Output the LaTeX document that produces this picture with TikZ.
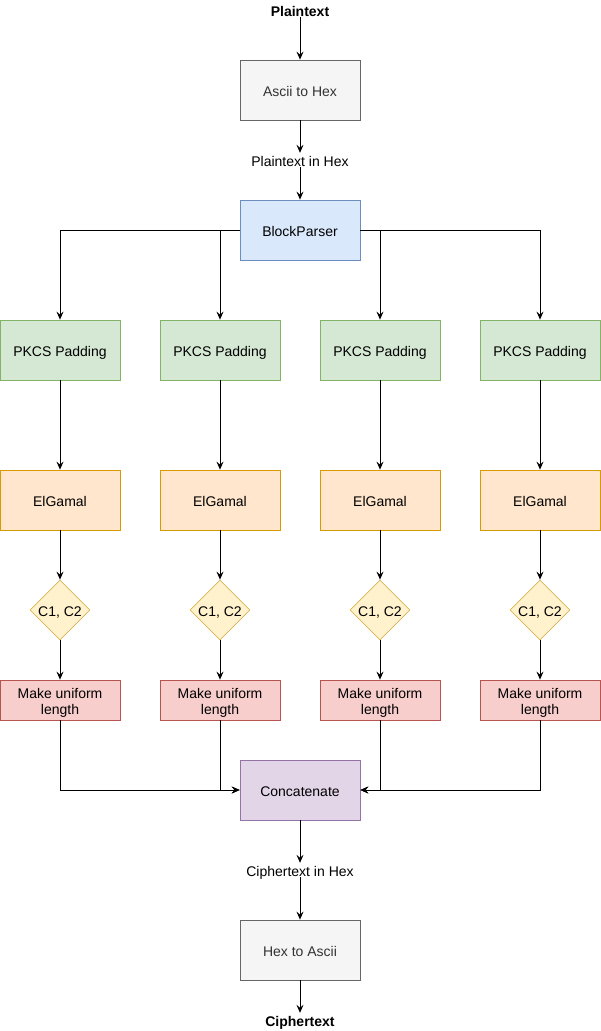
\documentclass[tikz,border=0pt]{standalone}
\usepackage{fontspec}
\setmainfont{Liberation Sans}
\usetikzlibrary{shapes.geometric,arrows.meta}
\definecolor{grayF}{HTML}{F5F5F5}\definecolor{grayS}{HTML}{666666}\definecolor{grayT}{HTML}{333333}
\definecolor{blueF}{HTML}{DAE8FC}\definecolor{blueS}{HTML}{6C8EBF}
\definecolor{greenF}{HTML}{D5E8D4}\definecolor{greenS}{HTML}{82B366}
\definecolor{orangeF}{HTML}{FFE6CC}\definecolor{orangeS}{HTML}{D79B00}
\definecolor{yellowF}{HTML}{FFF2CC}\definecolor{yellowS}{HTML}{D6B656}
\definecolor{redF}{HTML}{F8CECC}\definecolor{redS}{HTML}{B85450}
\definecolor{purpleF}{HTML}{E1D5E7}\definecolor{purpleS}{HTML}{9673A6}
\begin{document}
\begin{tikzpicture}[x=1pt,y=-1pt,
  font=\fontsize{14pt}{16pt}\selectfont,
  oneline/.style={text height=12pt,text depth=0pt},
  box/.style={draw,line width=0.8pt,minimum width=120pt,minimum height=60pt,inner sep=0pt,oneline},
  gbox/.style={box,fill=grayF,draw=grayS,text=grayT},
  bbox/.style={box,fill=blueF,draw=blueS},
  pbox/.style={box,fill=greenF,draw=greenS},
  ebox/.style={box,fill=orangeF,draw=orangeS},
  rbox/.style={box,fill=redF,draw=redS,minimum height=40pt,text height=8pt,text depth=12pt},
  cbox/.style={box,fill=purpleF,draw=purpleS},
  dia/.style={diamond,draw=yellowS,fill=yellowF,line width=0.8pt,minimum width=60pt,minimum height=60pt,inner sep=0pt,aspect=1,oneline},
  lbl/.style={inner sep=1pt,oneline},
  arr/.style={-{Stealth[length=8pt,width=7pt,inset=3pt]},line width=0.8pt}]
\useasboundingbox (0,0) rectangle (601,1031);
\node[lbl,font=\fontsize{14pt}{16pt}\selectfont\bfseries] (pt) at (300,10) {Plaintext};
\node[gbox] (a2h) at (300,90) {Ascii to Hex};
\node[lbl] (pth) at (300,160) {Plaintext in Hex};
\node[bbox] (bp) at (300,230) {BlockParser};
\foreach \i/\x in {1/60,2/220,3/380,4/540}{
  \node[pbox] (p\i) at (\x,350) {PKCS Padding};
  \node[ebox] (e\i) at (\x,500) {ElGamal};
  \node[dia] (d\i) at (\x,610) {C1, C2};
  \node[rbox] (m\i) at (\x,700) {\begin{tabular}[t]{@{}c@{}}Make uniform\\length\end{tabular}};
  \draw[arr] (p\i) -- (e\i);
  \draw[arr] (e\i) -- (d\i);
  \draw[arr] (d\i) -- (m\i);
}
\node[cbox] (cc) at (300,790) {Concatenate};
\node[lbl] (cth) at (300,870) {Ciphertext in Hex};
\node[gbox] (h2a) at (300,950) {Hex to Ascii};
\node[lbl,font=\fontsize{14pt}{16pt}\selectfont\bfseries] (ct) at (300,1020) {Ciphertext};
\draw[arr] (pt) -- (a2h);
\draw[arr] (a2h) -- (pth);
\draw[arr] (pth) -- (bp);
\draw[arr] (bp.west) -| (p1.north);
\draw[arr] (bp.west) -| (p2.north);
\draw[arr] (bp.east) -| (p3.north);
\draw[arr] (bp.east) -| (p4.north);
\draw[arr] (m1.south) |- (cc.west);
\draw[arr] (m2.south) |- (cc.west);
\draw[arr] (m3.south) |- (cc.east);
\draw[arr] (m4.south) |- (cc.east);
\draw[arr] (cc) -- (cth);
\draw[arr] (cth) -- (h2a);
\draw[arr] (h2a) -- (ct);
\end{tikzpicture}
\end{document}
